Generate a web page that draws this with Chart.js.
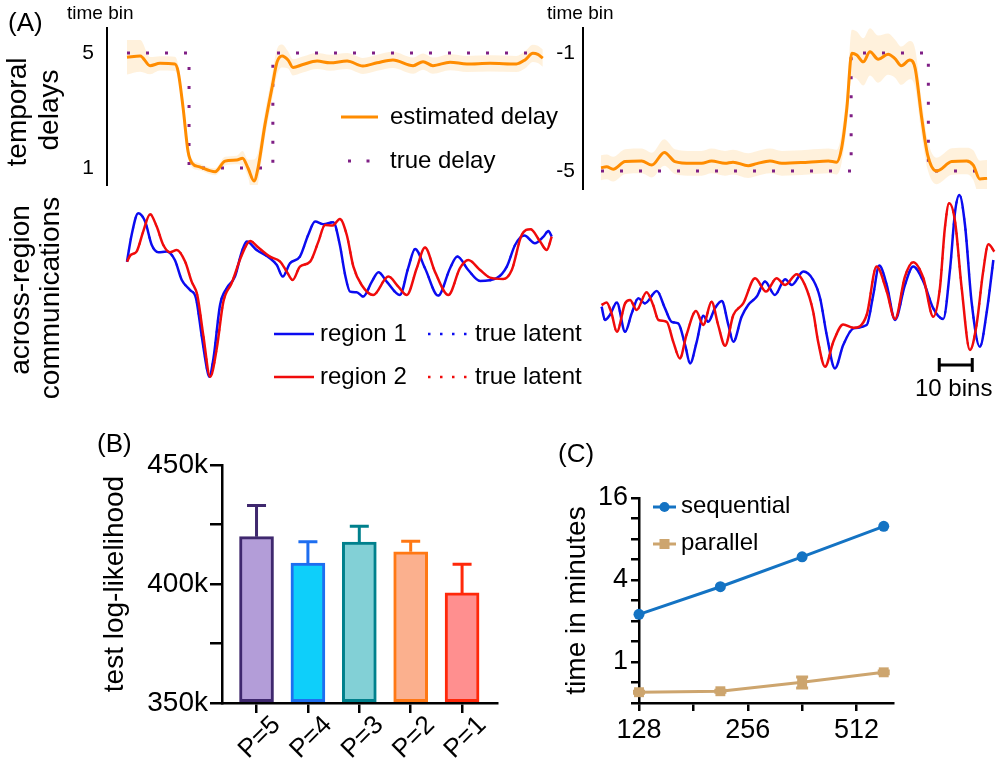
<!DOCTYPE html>
<html><head><meta charset="utf-8">
<script src="https://cdn.jsdelivr.net/npm/chart.js@4.4.1/dist/chart.umd.min.js"></script>
<style>
html,body{margin:0;padding:0;background:#fff;}
#wrap{position:relative;width:997px;height:759px;overflow:hidden;font-family:"Liberation Sans",Arial,Helvetica,sans-serif;color:#000;}
canvas{position:absolute;left:0;top:0;}
.t{position:absolute;white-space:nowrap;line-height:1;}
.r{position:absolute;white-space:nowrap;line-height:1;text-align:center;width:300px;transform:rotate(-90deg);}
svg{position:absolute;left:0;top:0;pointer-events:none;}
</style></head><body>
<div id="wrap">
<canvas id="cDelayL" width="997" height="759"></canvas>
<canvas id="cDelayR" width="997" height="759"></canvas>
<canvas id="cCommL" width="997" height="759"></canvas>
<canvas id="cCommR" width="997" height="759"></canvas>
<canvas id="cBars" width="997" height="759"></canvas>
<canvas id="cTime" width="997" height="759"></canvas>

<div class="t" style="left:8px;top:9px;font-size:26px;">(A)</div>
<div class="t" style="left:67px;top:3px;font-size:19px;">time bin</div>
<div class="t" style="left:547px;top:3px;font-size:19px;">time bin</div>
<div class="r" style="left:-133px;top:98px;font-size:28px;">temporal</div>
<div class="r" style="left:-101px;top:96px;font-size:28px;">delays</div>
<div class="r" style="left:-130px;top:276px;font-size:28px;">across-region</div>
<div class="r" style="left:-100px;top:284px;font-size:28px;">communications</div>
<div class="t" style="left:390px;top:104px;font-size:24px;">estimated delay</div>
<div class="t" style="left:390px;top:148px;font-size:24px;">true delay</div>
<div class="t" style="left:320px;top:321px;font-size:24px;">region 1</div>
<div class="t" style="left:475px;top:321px;font-size:24px;">true latent</div>
<div class="t" style="left:320px;top:364px;font-size:24px;">region 2</div>
<div class="t" style="left:475px;top:364px;font-size:24px;">true latent</div>
<div class="t" style="left:915px;top:376px;font-size:24px;">10 bins</div>
<div class="t" style="left:97px;top:430px;font-size:26px;">(B)</div>
<div class="t" style="left:558px;top:440px;font-size:26px;">(C)</div>
<div class="t" style="left:681px;top:493px;font-size:24px;">sequential</div>
<div class="t" style="left:681px;top:530px;font-size:24px;">parallel</div>

<svg width="997" height="759" viewBox="0 0 997 759">
  <line x1="341" y1="117" x2="378" y2="117" stroke="#ff8c00" stroke-width="3"/>
  <rect x="348" y="159.5" width="3" height="3" fill="#7f1f85"/>
  <rect x="366.5" y="159.5" width="3" height="3" fill="#7f1f85"/>
  <line x1="274" y1="334" x2="314" y2="334" stroke="#0b0bf0" stroke-width="2.5"/>
  <line x1="428" y1="334" x2="468" y2="334" stroke="#0b0bf0" stroke-width="2.5" stroke-dasharray="2.5 9.5"/>
  <line x1="274" y1="377" x2="314" y2="377" stroke="#f00b0b" stroke-width="2.5"/>
  <line x1="428" y1="377" x2="468" y2="377" stroke="#f00b0b" stroke-width="2.5" stroke-dasharray="2.5 9.5"/>
  <line x1="653" y1="507" x2="676" y2="507" stroke="#1473c3" stroke-width="3"/>
  <circle cx="664.5" cy="507" r="5" fill="#1473c3"/>
  <line x1="653" y1="544" x2="676" y2="544" stroke="#cda56e" stroke-width="3"/>
  <rect x="659.5" y="539" width="10" height="10" fill="#cda56e"/>
</svg>
</div>
<script>
// ---------------- DATA ----------------
// Panel A, left: temporal delay (time bins)
const delayL_bins = [0,4,7,10,14.5,15.5,17,18.5,19.7,22,26.7,29.7,33.3,35,36.7,38.5,39.7,41.8,43.9,45.5,47,48.8,50.3,53.3,57.6,61.5,66.7,71.5,75.8,80.6,86.7,89.7,92.7,97.9,103,110,118,120.6,123,124.5,126];
const delayL_est = [4.85,4.9,4.56,4.64,4.62,4.35,3.09,1.57,1.17,1.04,0.87,1.24,1.28,1.34,0.99,0.55,1.0,2.5,3.77,4.7,4.9,4.76,4.5,4.6,4.72,4.66,4.72,4.55,4.66,4.76,4.56,4.7,4.56,4.68,4.62,4.64,4.62,4.76,4.99,4.95,4.82];
const delayL_sd  = [0.6,0.55,0.3,0.25,0.25,0.25,0.25,0.2,0.15,0.12,0.12,0.15,0.15,0.25,0.3,0.75,0.55,0.45,0.45,0.45,0.4,0.3,0.28,0.28,0.28,0.28,0.28,0.28,0.28,0.28,0.28,0.28,0.28,0.28,0.28,0.28,0.28,0.3,0.3,0.3,0.3];
const trueL_bins = [0,18.8,18.8,44.2,44.2,126];
const trueL_vals = [5,5,1,1,5,5];
const yTicksDelayL = [1,5];
const yLabelsDelayL = ['1','5'];

// Panel A, right: temporal delay
const delayR_bins = [0,1.7,3.7,7.3,12.3,15.4,19.2,22.4,27.5,30.5,33.5,37.6,40,44.6,47.2,51.2,54.8,62.8,68.9,71.4,72.9,74.5,76,77.5,79.5,81.5,84,87,89,91,93.6,95.2,97.2,99,101.7,106.3,110.8,112.8,114.8,117];
const delayR_est = [-4.89,-4.86,-4.94,-4.68,-4.66,-4.8,-4.37,-4.68,-4.74,-4.74,-4.66,-4.74,-4.7,-4.82,-4.75,-4.66,-4.74,-4.7,-4.66,-4.7,-4.23,-2.87,-1.01,-1.07,-1.3,-0.96,-1.21,-1.04,-1.18,-1.43,-1.24,-1.52,-3.21,-4.46,-5.0,-4.68,-4.66,-4.8,-5.27,-5.25];
const delayR_sd  = [0.42,0.42,0.42,0.42,0.42,0.42,0.45,0.42,0.42,0.42,0.42,0.42,0.42,0.42,0.42,0.42,0.42,0.42,0.42,0.42,0.5,0.6,0.8,0.8,0.8,0.8,0.8,0.7,0.65,0.65,0.65,0.65,0.6,0.5,0.45,0.45,0.45,0.5,0.62,0.62];
const trueR_bins = [0,75.8,75.8,99.2,99.2,117];
const trueR_vals = [-5,-5,-1,-1,-5,-5];
const yTicksDelayR = [-5,-1];
const yLabelsDelayR = ['-5','-1'];

// Panel A, left: across-region communications (arbitrary units)
const commL_bins1 = [0,1.4,3.4,5.5,7.5,9.5,12,14.5,16.6,19.1,20.9,22.6,24.2,24.9,26.2,28.2,30.2,32.7,34.8,36.3,39.3,43.3,45.4,47.2,49.4,52.4,54.9,57,59.5,62.5,64.5,66.1,67.6,69.6,71.6,74.2,76.2,78.7,82.7,85.2,87.3,90.3,94.3,97.9,100.1,103.4,107,112,115.1,117.6,120.4,123.6,126.2,127.7,128.7];
const commL_region1 = [1.92,3.25,4.34,3.92,2.75,2.39,2.42,2.0,1.0,0.5,0.09,-1.75,-3.42,-3.84,-2.92,-0.25,0.59,1.17,2.42,2.92,2.5,2.09,1.75,1.17,1.84,2.17,3.25,3.92,3.79,3.89,2.75,1.25,0.42,0.39,0.17,0.92,1.39,0.92,0.25,1.59,2.55,1.59,0.22,1.59,2.17,1.5,0.95,1.09,1.67,2.75,3.22,2.84,3.17,3.45,3.17];
const commL_bins2 = [0,1.1,2.9,4.9,7,9,11,13,15.1,17.6,19.6,21.3,23.1,25.2,27.2,29.2,31.7,34.8,37.3,39.8,43.3,46.4,48.4,50.2,52.4,55.5,58,60,62.3,64.5,66.6,68.6,71.1,74.6,79.2,82.2,84.8,87.8,90.3,93.3,97.4,100.9,103.4,107,110,114,116.6,119.6,122.3,125.2,127.2,128.7];
const commL_region2 = [1.92,2.25,2.42,3.42,4.29,3.67,2.75,2.39,2.5,1.92,0.92,0.25,-1.75,-3.84,-2.42,-0.09,0.84,2.25,2.95,2.62,2.17,1.92,1.42,1.0,1.67,1.92,2.92,3.75,3.72,4.05,3.25,1.67,0.75,0.25,1.17,0.67,0.25,1.59,2.62,1.42,0.25,1.59,2.0,1.5,1.12,1.05,1.5,3.25,3.54,2.92,2.5,3.17];

// Panel A, right: across-region communications
const commR_bins1 = [0.2,1.2,2.7,4.8,7.3,9.3,11.3,13.3,16.9,19.4,21.4,23.4,25.5,27,29,31,32.5,34.5,36.6,38.6,40.1,42.6,44.6,47.2,49.7,52.7,55.8,57.8,61.3,64.3,66.4,68.4,70.9,73.4,76.5,80.5,82.5,84.3,86.6,89.1,92.1,94.6,97.7,100.7,103.7,105.8,107.3,108.6,110.3,112.3,114.8,116.9,118.9];
const commR_region1 = [-0.34,-1.0,-0.75,-0.12,-1.59,-0.67,0.09,-0.17,0.45,-0.42,-1.09,-1.17,-2.25,-3.17,-2.09,-0.79,-1.09,-0.42,-0.05,-1.25,-2.09,-0.84,-0.25,0.17,0.92,0.25,1.04,0.75,1.42,1.0,0.09,-1.75,-3.42,-2.25,-1.42,-1.25,0.25,1.72,0.75,-1.0,0.75,1.67,0.92,-0.42,-0.95,1.59,4.42,5.25,3.75,-0.09,-2.34,-0.59,2.0];
const commR_bins2 = [0.2,1.7,3.2,4.8,7.3,8.8,10.8,13.8,15.8,17.4,19.9,21.9,23.9,25.9,28.8,31,33.5,35.5,37.6,40.1,43.1,46.7,50,53.2,55.8,59.3,61.8,64.3,65.8,67.9,70.4,73.4,76.5,80.5,83.5,86.6,89.1,92.1,94.6,97.7,100.7,102.7,104.2,105.5,107.3,109.3,111.8,113.8,115.8,117.4,119.2];
const commR_region2 = [-0.25,-0.12,-0.67,-1.59,-0.17,0,-0.5,0.39,-0.25,-1.0,-1.09,-2.09,-2.92,-1.75,-0.55,-1.25,-0.09,-1.25,-2.29,-0.75,-0.17,1.09,0.42,1.09,0.75,1.29,0.75,-0.59,-2.09,-3.34,-2.09,-1.22,-1.39,-0.75,1.67,0.42,-0.95,1.17,1.89,1.09,-0.84,0.59,3.59,4.84,3.92,0.59,-2.5,-1.25,1.42,2.79,2.42];
const scaleBarStart = 102.5, scaleBarBins = 10, scaleBarLevel = -3.25;

// Panel B
const catsB = ['P=5','P=4','P=3','P=2','P=1'];
const meanB = [419900, 408750, 417600, 413500, 396250];
const errB  = [13100, 9050, 6700, 4500, 12050];
const yTicksB = [350000, 375000, 400000, 425000, 450000];
const yLabelsB = ['350k', '', '400k', '', '450k'];

// Panel C
const sizesC = [128, 215, 362, 609];
const seqC = [2.24, 3.57, 5.92, 9.91];
const parC = [0.6, 0.61, 0.71, 0.84];
const parErrC = [0.01, 0.01, 0.065, 0.02];
const xTicksC = [128, 181, 256, 362, 512];
const xLabelsC = ['128', '', '256', '', '512'];
const yTicksC = [0.5, 0.71, 1, 1.41, 2, 2.83, 4, 5.66, 8, 11.3, 16];
const yLabelsC = ['', '', '1', '', '', '', '4', '', '', '', '16'];

// ---------------- STYLE ----------------
const FONT = '"Liberation Sans", Arial, Helvetica, sans-serif';
Chart.defaults.font.family = FONT;
Chart.defaults.color = '#000';
const ORANGE = '#ff8c00', BAND = 'rgba(255,200,120,0.26)', PURPLE = '#7f1f85';
const BLUE = '#0b0bf0', RED = '#f00b0b';
const SEQ = '#1473c3', PAR = '#cda56e';
const barFill = ['#b39dd8', '#0ecffa', '#82d0d6', '#fbb08e', '#ff8f8f'];
const barEdge = ['#3f286e', '#1e6ef0', '#00808c', '#ff7814', '#ff280a'];
const PXB = 3.3; // pixels per time bin

const pts = (xs, ys) => xs.map((x, i) => ({x, y: ys[i]}));
const base = (pad) => ({
  responsive: false, animation: false, devicePixelRatio: 1, events: [],
  layout: {padding: pad, autoPadding: false},
  plugins: {legend: {display: false}, tooltip: {enabled: false}}
});
const hidden = (min, max) => ({type: 'linear', display: false, min, max});
const tickLookup = (vals, labs) => (v) => { const i = vals.findIndex(t => Math.abs(t - v) < 1e-6); return i >= 0 ? labs[i] : ''; };

function delayChart(id, bins, est, sd, tb, tv, pad, xr, yr, yt, yl, axisW, labPad) {
  const upper = est.map((v, i) => v + sd[i]);
  const lower = est.map((v, i) => v - sd[i]);
  const opt = base(pad);
  opt.scales = {
    x: hidden(xr[0], xr[1]),
    y: {type: 'linear', min: yr[0], max: yr[1],
      border: {display: true, color: '#000', width: 2},
      grid: {display: true, drawOnChartArea: false, drawTicks: false},
      ticks: {font: {size: 21}, padding: labPad, color: '#000', callback: tickLookup(yt, yl)},
      afterBuildTicks: s => { s.ticks = yt.map(v => ({value: v})); },
      afterFit: s => { s.width = axisW; }}
  };
  return new Chart(document.getElementById(id), {
    type: 'line',
    data: {datasets: [
      {label: 'estimated delay', data: pts(bins, est), borderColor: ORANGE, borderWidth: 3, pointRadius: 0, cubicInterpolationMode: 'monotone', clip: false, order: 1},
      {label: 'true delay', data: pts(tb, tv), borderColor: PURPLE, borderWidth: 3, borderDash: [3, 16], borderCapStyle: 'butt', pointRadius: 0, tension: 0, clip: false, order: 2},
      {label: 'band upper', data: pts(bins, upper), borderWidth: 0, borderColor: 'rgba(0,0,0,0)', pointRadius: 0, cubicInterpolationMode: 'monotone', fill: '+1', backgroundColor: BAND, clip: false, order: 3},
      {label: 'band lower', data: pts(bins, lower), borderWidth: 0, borderColor: 'rgba(0,0,0,0)', pointRadius: 0, cubicInterpolationMode: 'monotone', fill: false, clip: false, order: 4}
    ]},
    options: opt
  });
}

// Panel A delay charts
delayChart('cDelayL', delayL_bins, delayL_est, delayL_sd, trueL_bins, trueL_vals,
  {left: 47, right: 444, top: 28, bottom: 574}, [-20 / PXB, (553 - 127) / PXB],
  [1 - 17 / 28.75, 5 + 25 / 28.75], yTicksDelayL, yLabelsDelayL, 60, 13);
delayChart('cDelayR', delayR_bins, delayR_est, delayR_sd, trueR_bins, trueR_vals,
  {left: 523, right: 0, top: 28, bottom: 570}, [-18 / PXB, (997 - 601) / PXB],
  [-5 - 18 / 29.5, -1 + 25 / 29.5], yTicksDelayR, yLabelsDelayR, 60, 8);

function commChart(id, b1, r1, b2, r2, pad, xr, extraPlugins) {
  const opt = base(pad);
  opt.scales = {x: hidden(xr[0], xr[1]), y: hidden(-4.5, 5.5)};
  const line = (label, b, v, color, dash, order) => ({label, data: pts(b, v), borderColor: color,
    borderWidth: dash ? 2 : 2.5, borderDash: dash || [], pointRadius: 0, cubicInterpolationMode: 'monotone', clip: false, order});
  return new Chart(document.getElementById(id), {
    type: 'line',
    data: {datasets: [
      line('region 1', b1, r1, BLUE, null, 2),
      line('region 2', b2, r2, RED, null, 1),
      line('true latent 1', b1, r1, BLUE, [2, 9], 4),
      line('true latent 2', b2, r2, RED, [2, 9], 3)
    ]},
    options: opt,
    plugins: extraPlugins || []
  });
}
commChart('cCommL', commL_bins1, commL_region1, commL_bins2, commL_region2,
  {left: 107, right: 444, top: 190, bottom: 369}, [-20 / PXB, (553 - 127) / PXB]);
commChart('cCommR', commR_bins1, commR_region1, commR_bins2, commR_region2,
  {left: 583, right: 0, top: 190, bottom: 369}, [-18 / PXB, (997 - 601) / PXB],
  [{id: 'scalebar', afterDatasetsDraw(chart) {
    const {ctx, scales: {x, y}} = chart;
    const x1 = x.getPixelForValue(scaleBarStart), x2 = x.getPixelForValue(scaleBarStart + scaleBarBins);
    const yy = y.getPixelForValue(scaleBarLevel);
    ctx.save(); ctx.strokeStyle = '#000'; ctx.lineWidth = 3;
    ctx.beginPath(); ctx.moveTo(x1, yy); ctx.lineTo(x2, yy);
    ctx.moveTo(x1, yy - 7); ctx.lineTo(x1, yy + 7); ctx.moveTo(x2, yy - 7); ctx.lineTo(x2, yy + 7);
    ctx.stroke(); ctx.restore();
  }}]);

// Panel B
(function () {
  const opt = base({left: 98, right: 500, top: 465, bottom: 0});
  const xPos = catsB.map((c, i) => i + 1);
  opt.scales = {
    x: {type: 'linear', offset: false, min: 1 - 34.6 / 51.5, max: 5 + 35 / 51.5,
      border: {display: true, color: '#000', width: 2.5},
      grid: {display: true, offset: false, drawOnChartArea: false, drawTicks: true, tickLength: 10, color: '#000', lineWidth: 2.5},
      ticks: {font: {size: 26}, color: '#000', minRotation: 45, maxRotation: 45, padding: -3, labelOffset: 20,
        callback: tickLookup(xPos, catsB)},
      afterBuildTicks: s => { s.ticks = xPos.map(v => ({value: v})); },
      afterFit: s => { s.height = 56; }},
    y: {type: 'linear', min: 350000, max: 450000,
      border: {display: true, color: '#000', width: 2.5},
      grid: {display: true, drawOnChartArea: false, drawTicks: true, tickLength: 12, color: '#000', lineWidth: 2.5},
      ticks: {font: {size: 28}, color: '#000', padding: 2, callback: tickLookup(yTicksB, yLabelsB)},
      afterBuildTicks: s => { s.ticks = yTicksB.map(v => ({value: v})); },
      title: {display: true, text: 'test log-likelihood', font: {size: 28}, color: '#000', padding: {top: 0, bottom: 0}},
      afterFit: s => { s.width = 222 - 98; }}
  };
  new Chart(document.getElementById('cBars'), {
    type: 'bar',
    data: {datasets: [{label: 'test log-likelihood', data: pts(xPos, meanB), base: 350000,
      backgroundColor: barFill, borderColor: barEdge, borderWidth: 3, borderSkipped: false, barThickness: 34}]},
    options: opt,
    plugins: [{id: 'errB', afterDatasetsDraw(chart) {
      const {ctx, scales: {x, y}} = chart;
      ctx.save(); ctx.lineWidth = 3;
      meanB.forEach((m, i) => {
        const px = x.getPixelForValue(xPos[i]);
        const y0 = y.getPixelForValue(m), y1 = y.getPixelForValue(m + errB[i]);
        ctx.strokeStyle = barEdge[i];
        ctx.beginPath(); ctx.moveTo(px, y0); ctx.lineTo(px, y1);
        ctx.moveTo(px - 9.5, y1); ctx.lineTo(px + 9.5, y1); ctx.stroke();
      });
      ctx.restore();
    }}]
  });
})();

// Panel C
(function () {
  const opt = base({left: 560, right: 104, top: 498, bottom: 0});
  opt.scales = {
    x: {type: 'logarithmic', min: 128, max: 646,
      border: {display: true, color: '#000', width: 2.5},
      grid: {display: true, drawOnChartArea: false, drawTicks: true, tickLength: 8, color: '#000', lineWidth: 2.5},
      ticks: {font: {size: 27}, color: '#000', padding: 3, maxRotation: 0, autoSkip: false, callback: tickLookup(xTicksC, xLabelsC)},
      afterBuildTicks: s => { s.ticks = xTicksC.map(v => ({value: v})); },
      afterFit: s => { s.height = 56; }},
    y: {type: 'logarithmic', min: 0.5, max: 16,
      border: {display: true, color: '#000', width: 2.5},
      grid: {display: true, drawOnChartArea: false, drawTicks: true, tickLength: 8, color: '#000', lineWidth: 2.5},
      ticks: {font: {size: 27}, color: '#000', padding: 3, autoSkip: false, callback: tickLookup(yTicksC, yLabelsC)},
      afterBuildTicks: s => { s.ticks = yTicksC.map(v => ({value: v})); },
      title: {display: true, text: 'time in minutes', font: {size: 28}, color: '#000', padding: {top: 0, bottom: 0}},
      afterFit: s => { s.width = 639 - 560; }}
  };
  new Chart(document.getElementById('cTime'), {
    type: 'line',
    data: {datasets: [
      {label: 'sequential', data: pts(sizesC, seqC), borderColor: SEQ, backgroundColor: SEQ, borderWidth: 3,
        pointStyle: 'circle', pointRadius: 5.5, pointBorderWidth: 0, tension: 0, clip: false},
      {label: 'parallel', data: pts(sizesC, parC), borderColor: PAR, backgroundColor: PAR, borderWidth: 3,
        pointStyle: 'rect', pointRadius: 7, pointBorderWidth: 0, tension: 0, clip: false}
    ]},
    options: opt,
    plugins: [{id: 'errC', afterDatasetsDraw(chart) {
      const {ctx, scales: {x, y}} = chart;
      ctx.save(); ctx.lineWidth = 3; ctx.strokeStyle = PAR;
      parC.forEach((m, i) => {
        const px = x.getPixelForValue(sizesC[i]);
        const y0 = y.getPixelForValue(m - parErrC[i]), y1 = y.getPixelForValue(m + parErrC[i]);
        ctx.beginPath(); ctx.moveTo(px, y0); ctx.lineTo(px, y1);
        ctx.moveTo(px - 6, y0); ctx.lineTo(px + 6, y0); ctx.moveTo(px - 6, y1); ctx.lineTo(px + 6, y1);
        ctx.stroke();
      });
      ctx.restore();
    }}]
  });
})();
</script>
</body></html>
